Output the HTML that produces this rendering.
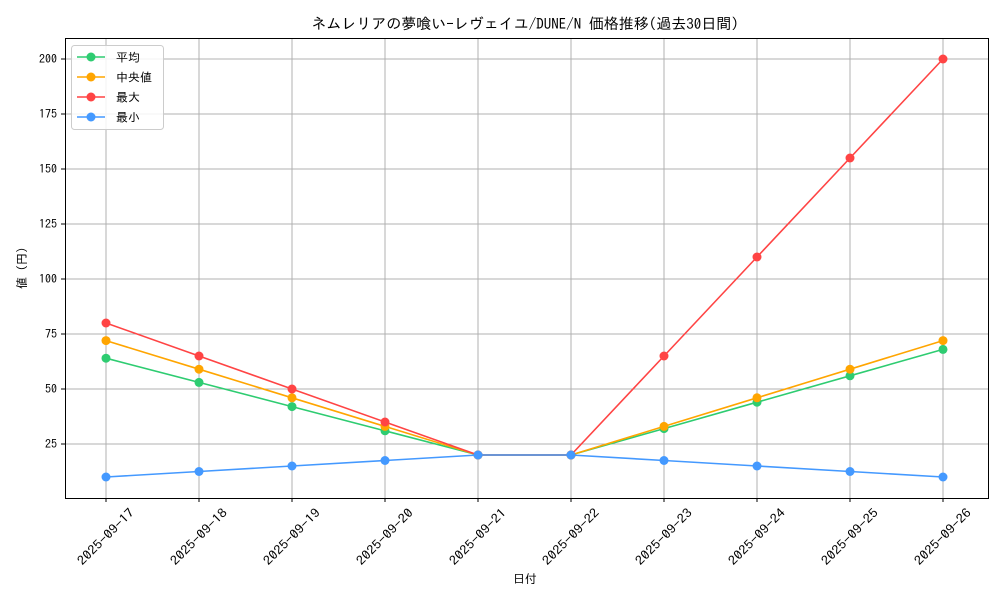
<!DOCTYPE html>
<html><head><meta charset="utf-8"><style>
body{margin:0;background:#fff;}
svg text{font-family:"IPAGothic","Noto Sans CJK JP",sans-serif;fill:#000;}
</style></head><body>
<svg id="chart" width="1000" height="600">
<rect width="1000" height="600" fill="#fff"/>
<text x="525" y="29" font-size="15" text-anchor="middle">ネムレリアの夢喰い-レヴェイユ/DUNE/N 価格推移(過去30日間)</text>
<g id="grid"></g>
<g id="axes"></g>
<g id="series"></g>
<rect x="65.5" y="38.5" width="923" height="460" fill="none" stroke="#000" stroke-width="1"/>
<text x="525" y="583" font-size="12" text-anchor="middle">日付</text>
<text x="26" y="268" font-size="12" text-anchor="middle" transform="rotate(-90 26 268)">値 (円)</text>
<g id="legend"></g>
</svg>
<script>
const categories=["2025-09-17","2025-09-18","2025-09-19","2025-09-20","2025-09-21","2025-09-22","2025-09-23","2025-09-24","2025-09-25","2025-09-26"];
const meanValues=[64,53,42,31,20,20,32,44,56,68];
const medianValues=[72,59,46,33,20,20,33,46,59,72];
const maxValues=[80,65,50,35,20,20,65,110,155,200];
const minValues=[10,12.5,15,17.5,20,20,17.5,15,12.5,10];
const yTicks=[25,50,75,100,125,150,175,200];
const seriesNames=["平均","中央値","最大","最小"];
const NS="http://www.w3.org/2000/svg";
function xs(i){return 106+i*93;}
function ys(v){return 444-(v-25)*2.2;}
function mk(tag,attrs,parent){const e=document.createElementNS(NS,tag);for(const k in attrs)e.setAttribute(k,attrs[k]);parent.appendChild(e);return e;}
const grid=document.getElementById('grid'),axes=document.getElementById('axes'),ser=document.getElementById('series'),leg=document.getElementById('legend');
categories.forEach((c,i)=>{
 const g=mk('line',{x1:xs(i),x2:xs(i),y1:38,y2:498,stroke:'#b0b0b0','stroke-width':1},grid);
 
 
 mk('line',{x1:xs(i),x2:xs(i),y1:498,y2:502,stroke:'#000'},axes);
 const cx=xs(i), cy=537;
 const t=mk('text',{x:cx,y:cy+4,'font-size':12.5,'text-anchor':'middle',textLength:74,lengthAdjust:'spacingAndGlyphs',transform:`rotate(-45 ${cx} ${cy})`},axes);
 t.textContent=c;
 
 
});
yTicks.forEach(v=>{
 const g=mk('line',{x1:65,x2:988,y1:ys(v),y2:ys(v),stroke:'#b0b0b0','stroke-width':1},grid);
 
 
 mk('line',{x1:61,x2:65,y1:ys(v),y2:ys(v),stroke:'#000'},axes);
 const t=mk('text',{x:57,y:ys(v)+4,'font-size':12,'text-anchor':'end'},axes);
 t.textContent=v;
 
 
});
const allSeries=[meanValues,medianValues,maxValues,minValues];
const colors=["#2ecc71","#ffa500","#ff4444","#4499ff"];
const keys=["mean","median","max","min"];
allSeries.forEach((vals,s)=>{
 const p=mk('polyline',{points:vals.map((v,i)=>xs(i)+','+ys(v)).join(' '),fill:'none',stroke:colors[s],'stroke-width':1.6},ser);
 
 
 vals.forEach((v,i)=>{
  const c=mk('circle',{cx:xs(i),cy:ys(v),r:4.5,fill:colors[s]},ser);
  
  
 });
});
const box=mk('rect',{x:71.5,y:45.5,width:92,height:84,rx:3,fill:'#fff','fill-opacity':0.85,stroke:'#ccc'},leg);


seriesNames.forEach((n,s)=>{
 const y=57+s*20;
 const g=mk('g',{},leg);
 
 
 mk('line',{x1:77,x2:105,y1:y,y2:y,stroke:colors[s],'stroke-width':1.6},g);
 mk('circle',{cx:91,cy:y,r:4.5,fill:colors[s]},g);
 const t=mk('text',{x:116,y:y+4.5,'font-size':12},g);
 t.textContent=n;
});
</script>
</body></html>
